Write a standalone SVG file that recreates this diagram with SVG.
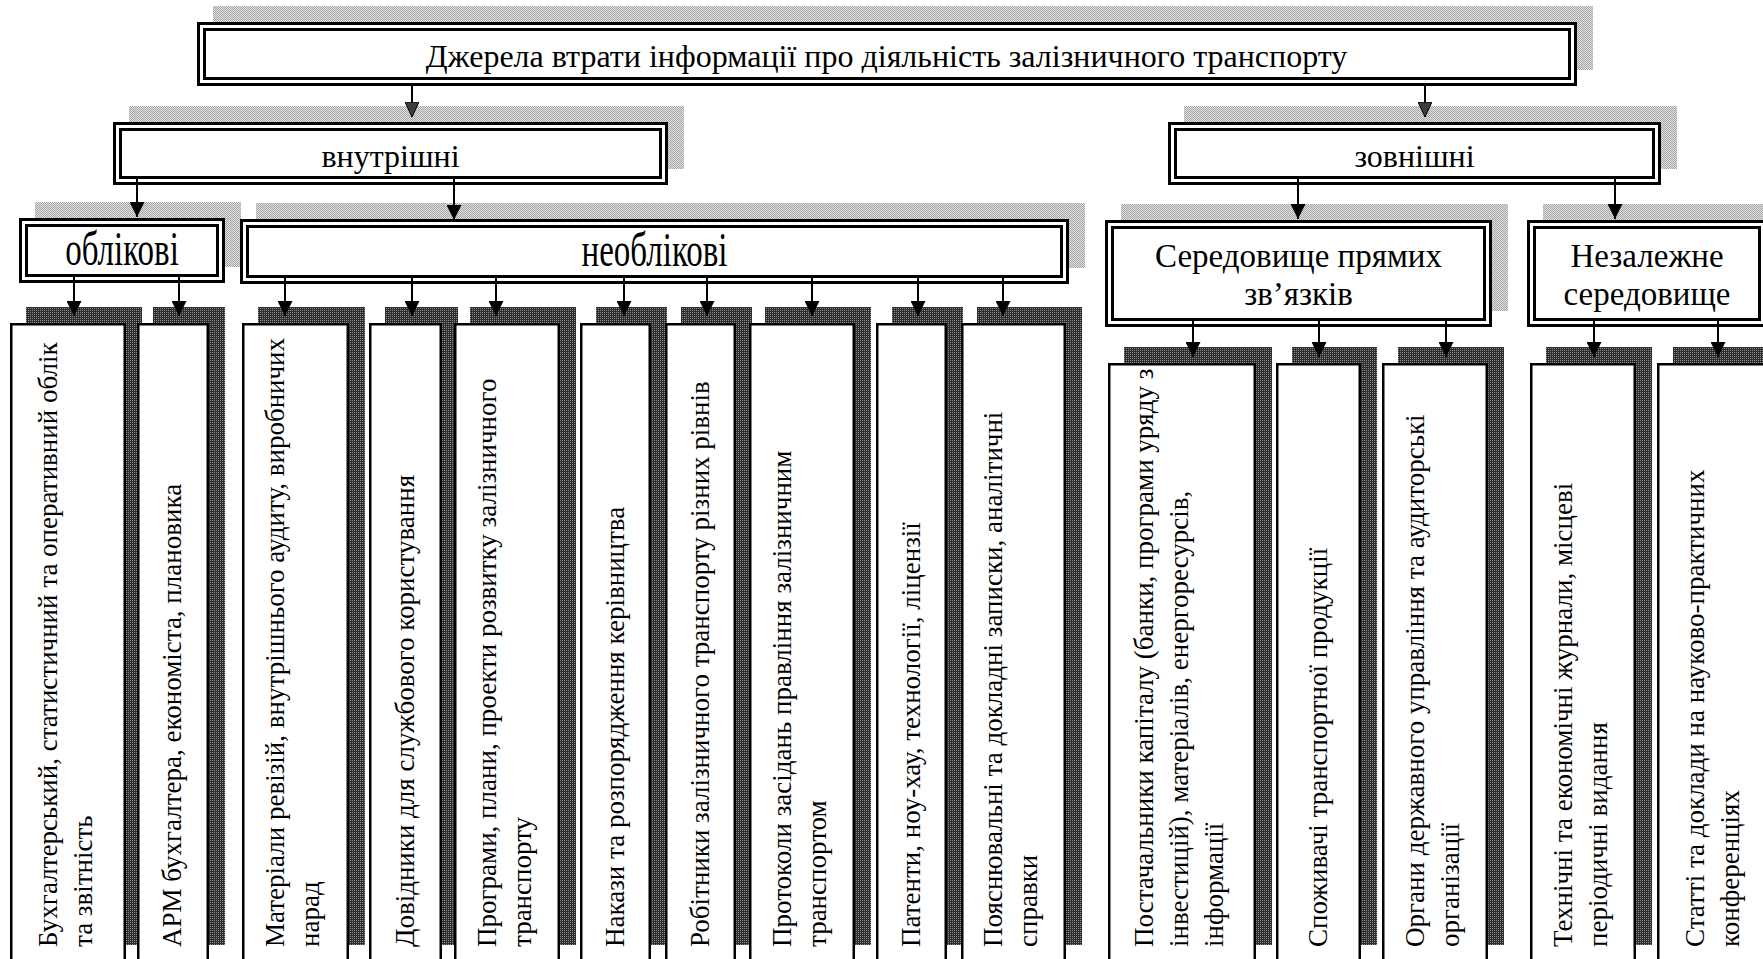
<svg xmlns="http://www.w3.org/2000/svg" width="1763" height="959" viewBox="0 0 1763 959">
<style>
.sl{fill:url(#lt)}
.sd{fill:url(#dk)}
.o{fill:#fff;stroke:#000;stroke-width:3}
.i{fill:none;stroke:#000;stroke-width:3}
.lf{fill:#fff;stroke:#000;stroke-width:2.5}
.h{font-family:"Liberation Serif","Times New Roman",serif;font-size:32px;text-anchor:middle;fill:#000}
.h3{font-size:33px}
.t{font-family:"Liberation Serif","Times New Roman",serif;font-size:27px;fill:#000}
.c{stroke:#000;stroke-width:2;fill:none;marker-end:url(#ah)}
.cg{stroke:#000;stroke-width:2;fill:none;marker-end:url(#ahg)}
</style>
<defs>
<pattern id="lt" width="2" height="2" patternUnits="userSpaceOnUse"><rect width="2" height="2" fill="#e2e2e2"/><rect width="1" height="1" fill="#a4a4a4"/><rect x="1" y="1" width="1" height="1" fill="#a4a4a4"/></pattern>
<pattern id="dk" width="2" height="2" patternUnits="userSpaceOnUse"><rect width="2" height="2" fill="#2e2e2e"/><rect width="1" height="1" fill="#8c8c8c"/></pattern>
<marker id="ah" markerUnits="userSpaceOnUse" markerWidth="15" markerHeight="15" refX="15" refY="7.5" orient="auto"><path d="M0,0 L15,7.5 L0,15 z" fill="#000"/></marker>
<marker id="ahg" markerUnits="userSpaceOnUse" markerWidth="15" markerHeight="14" refX="15" refY="7" orient="auto"><path d="M0,0 L15,7 L0,14 z" fill="#3c3c3c" stroke="#000" stroke-width="1"/></marker>
</defs>

<g id="root">
<rect class="sl" x="213" y="6" width="1380" height="64"/>
<rect class="o" x="198.5" y="23.5" width="1377" height="61"/>
<rect class="i" x="204.5" y="29.5" width="1365" height="49"/>
<text class="h" x="886.5" y="67">Джерела втрати інформації про діяльність залізничного транспорту</text>
</g>

<g id="internal">
<rect class="sl" x="129" y="106" width="555" height="63"/>
<rect class="o" x="114.5" y="123.5" width="552" height="60"/>
<rect class="i" x="120.5" y="129.5" width="540" height="48"/>
<text class="h" x="390.5" y="167">внутрішні</text>
</g>

<g id="external">
<rect class="sl" x="1184" y="106" width="493" height="63"/>
<rect class="o" x="1169.5" y="123.5" width="490" height="60"/>
<rect class="i" x="1175.5" y="129.5" width="478" height="48"/>
<text class="h" x="1414.5" y="167">зовнішні</text>
</g>

<g id="accounting">
<rect class="sl" x="35" y="202" width="206" height="65"/>
<rect class="o" x="20.5" y="219.5" width="203" height="62"/>
<rect class="i" x="26.5" y="225.5" width="191" height="50"/>
<text class="h h3" transform="translate(122,265) scale(1,1.45)">облікові</text>
</g>

<g id="nonaccounting">
<rect class="sl" x="256" y="203" width="829" height="65"/>
<rect class="o" x="241.5" y="220.5" width="826" height="62"/>
<rect class="i" x="247.5" y="226.5" width="814" height="50"/>
<text class="h h3" transform="translate(654.5,266) scale(1,1.45)">необлікові</text>
</g>

<g id="direct-env">
<rect class="sl" x="1121" y="204" width="387" height="107"/>
<rect class="o" x="1106.5" y="221.5" width="384" height="104"/>
<rect class="i" x="1112.5" y="227.5" width="372" height="92"/>
<text class="h h3" x="1298.5" y="267">Середовище прямих</text>
<text class="h h3" x="1298.5" y="305">зв’язків</text>
</g>

<g id="indep-env">
<rect class="sl" x="1543" y="204" width="240" height="107"/>
<rect class="o" x="1528.5" y="221.5" width="237" height="104"/>
<rect class="i" x="1534.5" y="227.5" width="225" height="92"/>
<text class="h h3" x="1647" y="267">Незалежне</text>
<text class="h h3" x="1647" y="305">середовище</text>
</g>

<g id="leaf1">
<rect class="sd" x="26" y="307" width="116" height="638"/>
<rect class="lf" x="11.25" y="324.25" width="113.5" height="640"/>
<text class="t" transform="translate(56.5,947) rotate(-90)"><tspan x="0" y="0">Бухгалтерський, статистичний та оперативний облік</tspan><tspan x="0" dy="35">та звітність</tspan></text>
</g>
<g id="leaf2">
<rect class="sd" x="153" y="307" width="72" height="638"/>
<rect class="lf" x="138.25" y="324.25" width="69.5" height="640"/>
<text class="t" transform="translate(181,947) rotate(-90)">АРМ бухгалтера, економіста, плановика</text>
</g>
<g id="leaf3">
<rect class="sd" x="258" y="307" width="107" height="638"/>
<rect class="lf" x="243.25" y="324.25" width="104.5" height="640"/>
<text class="t" transform="translate(284,947) rotate(-90)"><tspan x="0" y="0">Матеріали ревізій, внутрішнього аудиту, виробничих</tspan><tspan x="0" dy="35">нарад</tspan></text>
</g>
<g id="leaf4">
<rect class="sd" x="385" y="307" width="73" height="638"/>
<rect class="lf" x="370.25" y="324.25" width="70.5" height="640"/>
<text class="t" transform="translate(413.5,947) rotate(-90)">Довідники для службового користування</text>
</g>
<g id="leaf5">
<rect class="sd" x="470" y="307" width="106" height="638"/>
<rect class="lf" x="455.25" y="324.25" width="103.5" height="640"/>
<text class="t" transform="translate(495.5,947) rotate(-90)"><tspan x="0" y="0">Програми, плани, проекти розвитку залізничного</tspan><tspan x="0" dy="35">транспорту</tspan></text>
</g>
<g id="leaf6">
<rect class="sd" x="596" y="307" width="71" height="638"/>
<rect class="lf" x="581.25" y="324.25" width="68.5" height="640"/>
<text class="t" transform="translate(623.5,947) rotate(-90)">Накази та розпорядження керівництва</text>
</g>
<g id="leaf7">
<rect class="sd" x="681" y="307" width="71" height="638"/>
<rect class="lf" x="666.25" y="324.25" width="68.5" height="640"/>
<text class="t" transform="translate(708.5,947) rotate(-90)">Робітники залізничного транспорту різних рівнів</text>
</g>
<g id="leaf8">
<rect class="sd" x="765" y="307" width="106" height="638"/>
<rect class="lf" x="750.25" y="324.25" width="103.5" height="640"/>
<text class="t" transform="translate(790.5,947) rotate(-90)"><tspan x="0" y="0">Протоколи засідань правління залізничним</tspan><tspan x="0" dy="35">транспортом</tspan></text>
</g>
<g id="leaf9">
<rect class="sd" x="892" y="307" width="71" height="638"/>
<rect class="lf" x="877.25" y="324.25" width="68.5" height="640"/>
<text class="t" transform="translate(919.5,947) rotate(-90)">Патенти, ноу-хау, технології, ліцензії</text>
</g>
<g id="leaf10">
<rect class="sd" x="977" y="307" width="105" height="638"/>
<rect class="lf" x="962.25" y="324.25" width="102.5" height="640"/>
<text class="t" transform="translate(1002,947) rotate(-90)"><tspan x="0" y="0">Пояснювальні та докладні записки, аналітичні</tspan><tspan x="0" dy="35">справки</tspan></text>
</g>

<g id="leaf11">
<rect class="sd" x="1124" y="347" width="148" height="598"/>
<rect class="lf" x="1109.25" y="364.25" width="145.5" height="600"/>
<text class="t" transform="translate(1153,947) rotate(-90)"><tspan x="0" y="0">Постачальники капіталу (банки, програми уряду з</tspan><tspan x="0" dy="35">інвестицій), матеріалів, енергоресурсів,</tspan><tspan x="0" dy="35">інформації</tspan></text>
</g>
<g id="leaf12">
<rect class="sd" x="1292" y="347" width="85" height="598"/>
<rect class="lf" x="1277.25" y="364.25" width="82.5" height="600"/>
<text class="t" transform="translate(1326.5,947) rotate(-90)">Споживачі транспортної продукції</text>
</g>
<g id="leaf13">
<rect class="sd" x="1398" y="347" width="106" height="598"/>
<rect class="lf" x="1383.25" y="364.25" width="103.5" height="600"/>
<text class="t" transform="translate(1423.5,947) rotate(-90)"><tspan x="0" y="0">Органи державного управління та аудиторські</tspan><tspan x="0" dy="35">організації</tspan></text>
</g>
<g id="leaf14">
<rect class="sd" x="1546" y="347" width="106" height="598"/>
<rect class="lf" x="1531.25" y="364.25" width="103.5" height="600"/>
<text class="t" transform="translate(1571.5,947) rotate(-90)"><tspan x="0" y="0">Технічні та економічні журнали, місцеві</tspan><tspan x="0" dy="35">періодичні видання</tspan></text>
</g>
<g id="leaf15">
<rect class="sd" x="1673" y="347" width="115" height="598"/>
<rect class="lf" x="1658.25" y="364.25" width="112.5" height="600"/>
<text class="t" transform="translate(1704,947) rotate(-90)"><tspan x="0" y="0">Статті та доклади на науково-практичних</tspan><tspan x="0" dy="35">конференціях</tspan></text>
</g>

<g id="connectors">
<line class="cg" x1="412" y1="86" x2="412" y2="117"/>
<line class="cg" x1="1425" y1="86" x2="1425" y2="117"/>
<line class="c" x1="137" y1="179" x2="137" y2="217"/>
<line class="c" x1="454" y1="179" x2="454" y2="220"/>
<line class="c" x1="1298" y1="179" x2="1298" y2="219"/>
<line class="c" x1="1615" y1="179" x2="1615" y2="219"/>
<line class="c" x1="74" y1="277" x2="74" y2="316"/>
<line class="c" x1="179" y1="277" x2="179" y2="316"/>
<line class="c" x1="285" y1="278" x2="285" y2="316"/>
<line class="c" x1="412" y1="278" x2="412" y2="316"/>
<line class="c" x1="496" y1="278" x2="496" y2="316"/>
<line class="c" x1="624" y1="278" x2="624" y2="316"/>
<line class="c" x1="707" y1="278" x2="707" y2="316"/>
<line class="c" x1="812" y1="278" x2="812" y2="316"/>
<line class="c" x1="918" y1="278" x2="918" y2="316"/>
<line class="c" x1="1003" y1="278" x2="1003" y2="316"/>
<line class="c" x1="1193" y1="321" x2="1193" y2="357"/>
<line class="c" x1="1319" y1="321" x2="1319" y2="357"/>
<line class="c" x1="1446" y1="321" x2="1446" y2="357"/>
<line class="c" x1="1594" y1="321" x2="1594" y2="357"/>
<line class="c" x1="1718" y1="321" x2="1718" y2="357"/>
</g>
</svg>
